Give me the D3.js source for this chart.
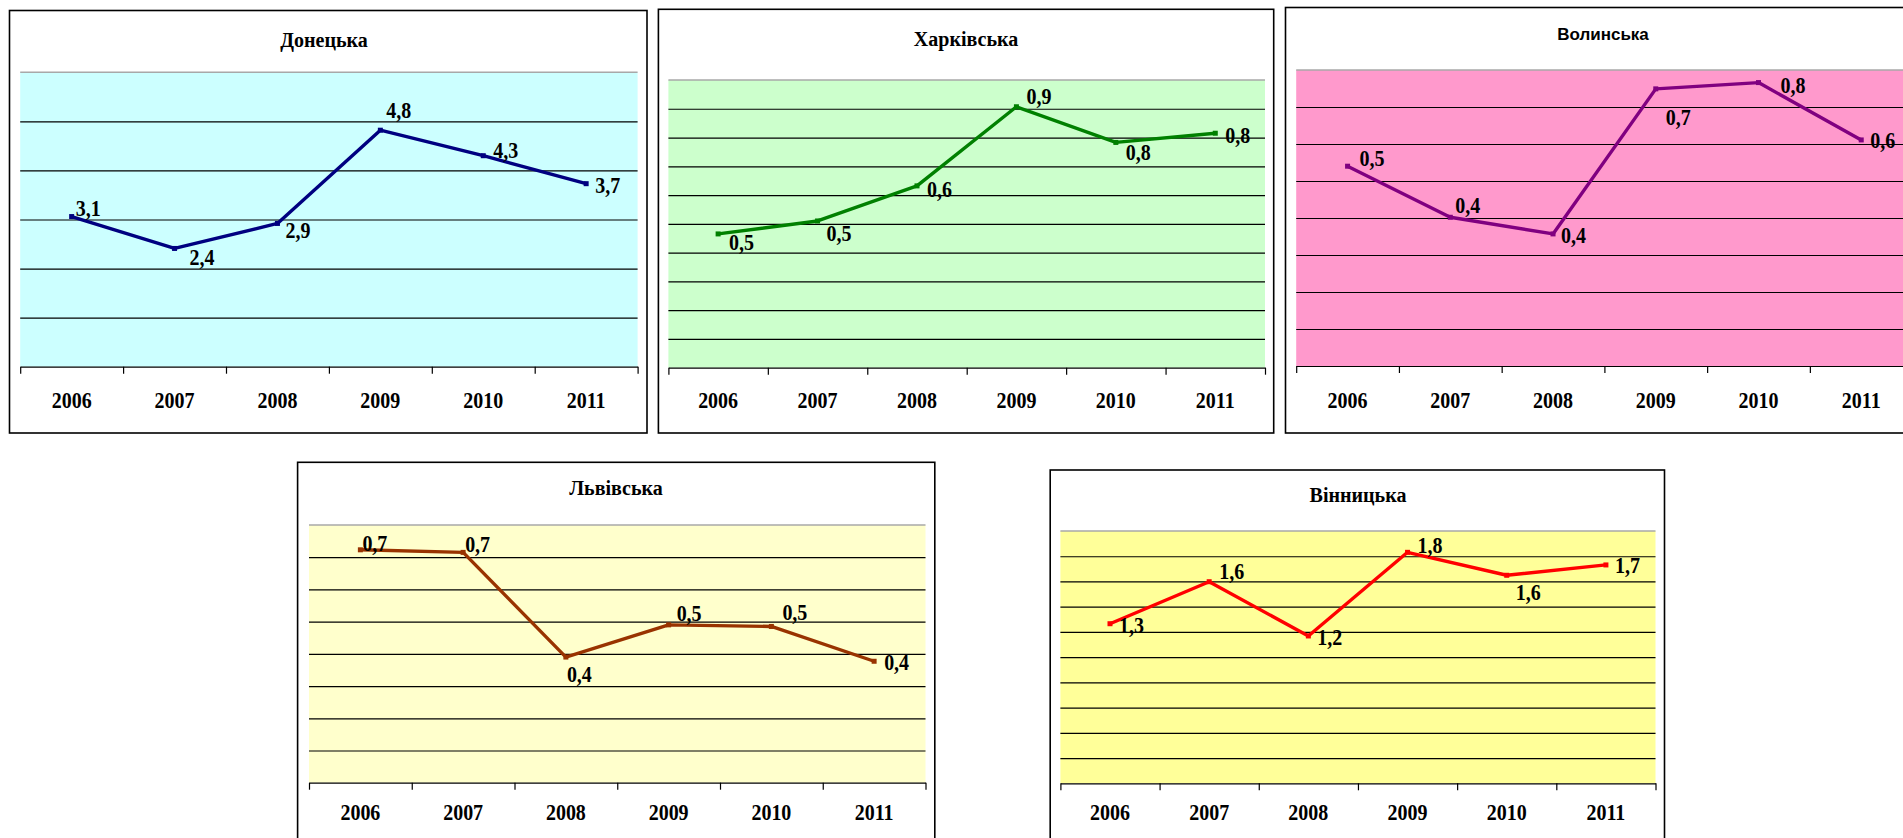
<!DOCTYPE html>
<html>
<head>
<meta charset="utf-8">
<script src="https://cdn.jsdelivr.net/npm/d3@7"></script>
<style>
  body { margin: 0; background: #fff; }
  svg { display: block; }
  .grid line { stroke: #000; stroke-width: 1.2; }
  .grid path { display: none; }
  .xaxis path, .xaxis line { stroke: #000; stroke-width: 1.2; }
  .years path, .years line { display: none; }
  .serif { font-family: "Times New Roman", "Liberation Serif", serif; font-weight: bold; }
  .sans { font-family: Arial, "Liberation Sans", sans-serif; font-weight: bold; }
</style>
</head>
<body>
<div id="chart"></div>
<script>
// data
var years = ["2006", "2007", "2008", "2009", "2010", "2011"];
var regionNames = ["Донецька", "Харківська", "Волинська", "Львівська", "Вінницька"];
var donetska = [3.06, 2.41, 2.92, 4.82, 4.30, 3.73];
var kharkivska = [0.465, 0.51, 0.632, 0.907, 0.783, 0.815];
var volynska = [0.54, 0.402, 0.357, 0.749, 0.766, 0.611];
var lvivska = [0.723, 0.715, 0.39, 0.49, 0.485, 0.377];
var vinnytska = [1.265, 1.598, 1.168, 1.831, 1.649, 1.731];
var yMaxes = [6, 1, 0.8, 0.8, 2];
var ySteps = [1, 0.1, 0.1, 0.1, 0.2];

var fmt = d3.formatLocale({ decimal: ",", thousands: " ", grouping: [3], currency: ["", ""] }).format(".1f");

// text in the original looks a bit stretched vertically
var stretch = 1.12;

// layout of each panel (frame and plot rect: x, y, w, h)
var panels = [
    { name: regionNames[0], values: donetska, yMax: yMaxes[0], step: ySteps[0],
      frame: [9.5, 10.5, 637.5, 422.5], plot: [20.2, 72.3, 617.4, 294.4],
      bg: "#ccffff", line: "#000080", titleX: 324, titleY: 47, titleClass: "serif", titleSize: 20, yearDy: 41.5,
      labels: [[4, -1], [15, 17], [8, 15], [6, -12], [10, 2.5], [9, 9]] },
    { name: regionNames[1], values: kharkivska, yMax: yMaxes[1], step: ySteps[1],
      frame: [658.4, 9.3, 615.3, 423.7], plot: [668.4, 80, 596.6, 287.7],
      bg: "#ccffcc", line: "#008000", titleX: 966, titleY: 46, titleClass: "serif", titleSize: 20, yearDy: 40.5,
      labels: [[11, 16], [9, 20], [10, 11], [10, -3], [10, 18], [10, 10]] },
    { name: regionNames[2], values: volynska, yMax: yMaxes[2], step: ySteps[2],
      frame: [1285.5, 7.5, 637, 425.5], plot: [1296.2, 70, 616.4, 296],
      bg: "#ff99cc", line: "#800080", titleX: 1603, titleY: 39.5, titleClass: "sans", titleSize: 17, yearDy: 42,
      labels: [[12, 0], [5, -4], [8, 9], [10, 36], [22, 10], [9, 8]] },
    { name: regionNames[3], values: lvivska, yMax: yMaxes[3], step: ySteps[3],
      frame: [297.6, 462.3, 637.2, 420], plot: [309, 525, 616.5, 257.7],
      bg: "#ffffcc", line: "#993300", titleX: 616, titleY: 495, titleClass: "serif", titleSize: 20, yearDy: 37.5,
      labels: [[2, 1], [2, 0], [1, 25], [8, -4], [11, -6], [10, 9]] },
    { name: regionNames[4], values: vinnytska, yMax: yMaxes[4], step: ySteps[4],
      frame: [1050.2, 470, 614.3, 420], plot: [1060.4, 531, 595.1, 252.3],
      bg: "#ffff99", line: "#ff0000", titleX: 1358, titleY: 502, titleClass: "serif", titleSize: 20, yearDy: 37,
      labels: [[9, 9], [10, -3], [9, 9], [10, 1], [9, 25], [9, 8]] }
];

var svg = d3.select("#chart")
    .append("svg")
    .attr("width", 1903)
    .attr("height", 838);

panels.forEach(function(p) {
    var fx = p.frame[0], fy = p.frame[1], fw = p.frame[2], fh = p.frame[3];
    var px = p.plot[0], py = p.plot[1], pw = p.plot[2], ph = p.plot[3];

    // outer frame
    svg.append("rect")
        .attr("x", fx).attr("y", fy)
        .attr("width", fw).attr("height", fh)
        .attr("fill", "#fff")
        .attr("stroke", "#000")
        .attr("stroke-width", 1.6);

    svg.append("text")
        .attr("class", p.titleClass)
        .attr("x", p.titleX)
        .attr("y", p.titleY)
        .attr("text-anchor", "middle")
        .style("font-size", p.titleSize + "px")
        .text(p.name);

    var g = svg.append("g")
        .attr("transform", "translate(" + px + "," + py + ")");

    var x = d3.scaleBand().domain(years).range([0, pw]).padding(0);
    var xEdge = d3.scaleLinear().domain([0, years.length]).range([0, pw]);
    var y = d3.scaleLinear().domain([0, p.yMax]).range([ph, 0]);

    g.append("rect")
        .attr("width", pw).attr("height", ph)
        .attr("fill", p.bg);

    // top border of plot area
    g.append("line")
        .attr("x1", 0).attr("x2", pw)
        .attr("y1", 0).attr("y2", 0)
        .attr("stroke", "#a8a8a8")
        .attr("stroke-width", 1.5);

    // horizontal gridlines
    var gridVals = d3.range(1, Math.round(p.yMax / p.step)).map(function(i) { return i * p.step; });
    g.append("g")
        .attr("class", "grid")
        .call(d3.axisLeft(y)
            .tickValues(gridVals)
            .tickSize(-pw)
            .tickFormat("")
        );

    // x axis with ticks at band edges
    g.append("g")
        .attr("class", "xaxis")
        .attr("transform", "translate(0," + ph + ")")
        .call(d3.axisBottom(xEdge)
            .tickValues(d3.range(0, years.length + 1))
            .tickSizeInner(7)
            .tickSizeOuter(0)
            .tickFormat("")
        );

    // year labels
    var yrs = g.append("g")
        .attr("class", "years")
        .attr("transform", "translate(0," + ph + ")")
        .call(d3.axisBottom(x).tickSize(0).tickPadding(0));
    yrs.selectAll("text")
        .attr("class", "serif")
        .attr("dy", null)
        .attr("y", 0)
        .attr("transform", "translate(0," + p.yearDy + ") scale(1," + stretch + ")")
        .attr("fill", "#000")
        .style("font-size", "20px");

    var pts = p.values.map(function(v, i) { return { year: years[i], value: v, i: i }; });

    g.append("path")
        .datum(pts)
        .attr("fill", "none")
        .attr("stroke", p.line)
        .attr("stroke-width", 3.4)
        .attr("stroke-linejoin", "round")
        .attr("d", d3.line()
            .x(function(d) { return x(d.year) + x.bandwidth() / 2; })
            .y(function(d) { return y(d.value); })
        );

    g.selectAll(".marker")
        .data(pts)
        .enter().append("rect")
        .attr("class", "marker")
        .attr("x", function(d) { return x(d.year) + x.bandwidth() / 2 - 2.5; })
        .attr("y", function(d) { return y(d.value) - 2.5; })
        .attr("width", 5)
        .attr("height", 5)
        .attr("fill", p.line);

    g.selectAll(".lbl")
        .data(pts)
        .enter().append("text")
        .attr("class", "serif lbl")
        .attr("transform", function(d) {
            var lx = x(d.year) + x.bandwidth() / 2 + p.labels[d.i][0];
            var ly = y(d.value) + p.labels[d.i][1];
            return "translate(" + lx + "," + ly + ") scale(1," + stretch + ")";
        })
        .style("font-size", "20px")
        .text(function(d) { return fmt(d.value); });
});
</script>
</body>
</html>
